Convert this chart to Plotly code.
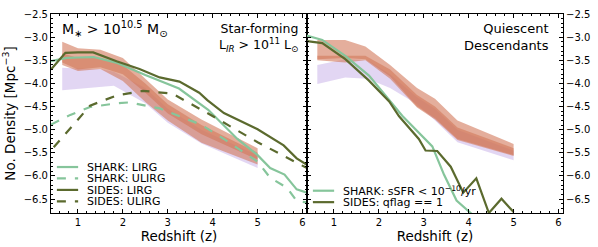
import plotly.graph_objects as go

# ---------------- data ----------------
# Left panel: star-forming
shark_lirg_z = [0.4, 0.75, 1.0, 1.35, 1.85, 2.5, 3.25, 3.9, 4.55, 5.0, 5.28, 5.6, 5.87, 6.1]
shark_lirg_n = [-3.52, -3.45, -3.44, -3.43, -3.55, -3.82, -4.11, -4.57, -5.2, -5.55, -5.83, -5.97, -6.29, -6.36]

shark_ulirg_z = [0.4, 0.83, 1.27, 1.86, 2.15, 2.82, 3.26, 3.74, 4.25, 5.0, 5.28, 5.65, 5.87, 6.1]
shark_ulirg_n = [-4.89, -4.68, -4.51, -4.43, -4.41, -4.54, -4.71, -4.89, -5.2, -5.69, -6.04, -6.25, -6.54, -6.57]

sides_lirg_z = [0.4, 0.72, 1.0, 1.34, 1.86, 2.37, 2.82, 3.26, 3.7, 3.88, 4.25, 5.0, 5.58, 5.87, 6.1]
sides_lirg_n = [-3.7, -3.34, -3.33, -3.33, -3.52, -3.69, -3.87, -3.96, -4.2, -4.36, -4.64, -4.99, -5.34, -5.62, -5.76]

sides_ulirg_z = [0.46, 0.83, 1.27, 1.86, 2.45, 3.1, 3.88, 5.0, 6.1]
sides_ulirg_n = [-5.38, -4.96, -4.48, -4.26, -4.16, -4.22, -4.64, -5.27, -5.83]

# observational bands, left panel
obs_sf_z = [0.65, 1.0, 1.5, 2.0, 2.5, 3.0, 3.75, 5.0]
obsA_sf_hi = [-3.1, -3.24, -3.27, -3.45, -3.9, -4.35, -4.78, -5.4]
obsA_sf_lo = [-3.55, -3.7, -3.65, -3.8, -4.2, -4.65, -5.1, -5.65]
obsB_sf_hi = [-3.35, -3.45, -3.45, -3.6, -4.0, -4.45, -4.9, -5.5]
obsB_sf_lo = [-3.6, -3.73, -3.69, -3.95, -4.4, -4.8, -5.28, -5.75]
lav_sf_z = [0.65, 1.0, 1.5, 1.8, 2.5, 3.0, 3.75, 5.0]
lav_sf_hi = [-3.66, -3.68, -3.69, -3.75, -4.1, -4.55, -5.0, -5.55]
lav_sf_lo = [-4.15, -4.13, -4.08, -4.05, -4.43, -4.85, -5.3, -5.83]

# Right panel: quiescent descendants
shark_q_z = [0.37, 0.74, 1.26, 1.78, 2.52, 2.86, 3.19, 3.45, 3.73, 4.1]
shark_q_n = [-2.96, -3.06, -3.41, -3.83, -4.7, -5.03, -5.36, -5.97, -6.53, -6.85]

sides_q_z = [0.37, 0.74, 1.26, 1.78, 2.23, 2.45, 2.89, 3.04, 3.3, 3.6, 3.88, 4.17, 4.45, 4.73, 5.0]
sides_q_n = [-3.08, -3.13, -3.48, -3.94, -4.39, -4.71, -5.2, -5.45, -5.46, -5.8, -6.36, -6.05, -6.8, -6.49, -6.78]

obs_q_z = [0.63, 1.25, 1.7, 2.25, 2.85, 3.25, 3.75, 5.0]
obsA_q_hi = [-3.06, -3.06, -3.2, -3.6, -4.1, -4.33, -4.8, -5.31]
obsA_q_lo = [-3.48, -3.45, -3.48, -3.85, -4.5, -4.75, -5.2, -5.55]
obsB_q_hi = [-3.4, -3.4, -3.4, -3.7, -4.25, -4.5, -4.95, -5.4]
obsB_q_lo = [-3.5, -3.55, -3.5, -3.9, -4.52, -4.78, -5.22, -5.57]
lav_q_z = [0.63, 1.25, 1.75, 2.25, 2.85, 3.25, 3.75, 5.0]
lav_q_hi = [-3.6, -3.48, -3.5, -3.8, -4.3, -4.55, -5.0, -5.45]
lav_q_lo = [-4.01, -3.87, -3.9, -4.1, -4.45, -4.8, -5.27, -5.66]

x_ticks = [1, 2, 3, 4, 5, 6]
y_ticks = [-2.5, -3.0, -3.5, -4.0, -4.5, -5.0, -5.5, -6.0, -6.5]

# ---------------- style ----------------
SHARK = "#86c59b"
SIDES = "#5b6a2e"
SALMON = "rgba(210,120,90,0.6)"
LAV = "rgba(160,120,215,0.3)"
FONT = "DejaVu Sans"

fig = go.Figure()


def band(z, hi, lo, color, xa, ya):
    fig.add_trace(go.Scatter(
        x=list(z) + list(z)[::-1], y=list(hi) + list(lo)[::-1],
        fill="toself", fillcolor=color, line=dict(width=0),
        mode="lines", hoverinfo="skip", showlegend=False,
        xaxis=xa, yaxis=ya))


def line(z, n, color, dash, xa, ya):
    fig.add_trace(go.Scatter(
        x=z, y=n, mode="lines", showlegend=False,
        line=dict(color=color, width=2.2, dash=dash),
        xaxis=xa, yaxis=ya))


# left panel
band(lav_sf_z, lav_sf_hi, lav_sf_lo, LAV, "x", "y")
band(obs_sf_z, obsA_sf_hi, obsA_sf_lo, SALMON, "x", "y")
band(obs_sf_z, obsB_sf_hi, obsB_sf_lo, SALMON, "x", "y")
line(shark_lirg_z, shark_lirg_n, SHARK, "solid", "x", "y")
line(shark_ulirg_z, shark_ulirg_n, SHARK, "dash", "x", "y")
line(sides_lirg_z, sides_lirg_n, SIDES, "solid", "x", "y")
line(sides_ulirg_z, sides_ulirg_n, SIDES, "dash", "x", "y")

# right panel
band(lav_q_z, lav_q_hi, lav_q_lo, LAV, "x2", "y2")
band(obs_q_z, obsA_q_hi, obsA_q_lo, SALMON, "x2", "y2")
band(obs_q_z, obsB_q_hi, obsB_q_lo, SALMON, "x2", "y2")
line(shark_q_z, shark_q_n, SHARK, "solid", "x2", "y2")
line(sides_q_z, sides_q_n, SIDES, "solid", "x2", "y2")

axis_common = dict(
    showline=True, linecolor="black", linewidth=1, mirror="allticks",
    ticks="inside", ticklen=4, tickwidth=1, tickcolor="black",
    showgrid=False, zeroline=False,
    tickfont=dict(family=FONT, size=10, color="black"),
)

xcommon = dict(axis_common, range=[0.4, 6.1], tickvals=x_ticks,
               minor=dict(ticks="inside", ticklen=2, tickcolor="black", dtick=0.2, tick0=0),
               title=dict(text="Redshift (z)", font=dict(family=FONT, size=13.5, color="black"), standoff=0))
ycommon = dict(axis_common, range=[-6.8, -2.5], tickvals=y_ticks, tickformat=".1f",
               minor=dict(ticks="inside", ticklen=2, tickcolor="black", dtick=0.1, tick0=0))

fig.update_layout(
    width=598, height=247,
    margin=dict(l=51, r=32, t=8, b=34),
    paper_bgcolor="white", plot_bgcolor="white",
    font=dict(family=FONT, color="black"),
    showlegend=False,
    xaxis=dict(xcommon, domain=[0, 0.5], anchor="y"),
    yaxis=dict(ycommon, domain=[0, 1], anchor="x",
               title=dict(text="No. Density [Mpc<sup>−3</sup>]", font=dict(family=FONT, size=13.5, color="black"), standoff=5)),
    xaxis2=dict(xcommon, domain=[0.5, 1], anchor="y2"),
    yaxis2=dict(ycommon, domain=[0, 1], anchor="x2", side="right"),
)

# panel labels
fig.add_annotation(xref="x domain", yref="y domain", x=0.035, y=0.985, xanchor="left", yanchor="top",
                   text="M<sub>∗</sub> > 10<sup>10.5</sup> M<sub>⊙</sub>", showarrow=False,
                   font=dict(family=FONT, size=14, color="black"))
fig.add_annotation(xref="x domain", yref="y domain", x=0.972, y=0.975, xanchor="right", yanchor="top",
                   text="Star-forming<br>L<sub><i>IR</i></sub> > 10<sup>11</sup> L<sub>⊙</sub>", showarrow=False,
                   align="right", font=dict(family=FONT, size=12.5, color="black"))
fig.add_annotation(xref="x2 domain", yref="y2 domain", x=0.955, y=0.975, xanchor="right", yanchor="top",
                   text="Quiescent<br>Descendants", showarrow=False,
                   align="right", font=dict(family=FONT, size=13, color="black"))

# legends (drawn as key lines + labels)
def legend(xr, yr, entries, y0, dy):
    for i, (label, color, dash) in enumerate(entries):
        yy = y0 - i * dy
        fig.add_shape(type="line", xref=xr, yref=yr, x0=0.023, x1=0.106, y0=yy, y1=yy,
                      line=dict(color=color, width=2.2, dash=dash))
        fig.add_annotation(xref=xr, yref=yr, x=0.132, y=yy, xanchor="left", yanchor="middle",
                           text=label, showarrow=False, height=12,
                           font=dict(family=FONT, size=11, color="black"))

legend("x domain", "y domain", [
    ("SHARK: LIRG", SHARK, "solid"),
    ("SHARK: ULIRG", SHARK, "dash"),
    ("SIDES: LIRG", SIDES, "solid"),
    ("SIDES: ULIRG", SIDES, "dash"),
], 0.231, 0.0575)
legend("x2 domain", "y2 domain", [
    ("SHARK: sSFR < 10<sup>−10</sup>/yr", SHARK, "solid"),
    ("SIDES: qflag == 1", SIDES, "solid"),
], 0.112, 0.0575)

fig.write_html("out.html", config={"displayModeBar": False},
               post_script="document.body.style.margin='0';document.body.style.padding='0';")
